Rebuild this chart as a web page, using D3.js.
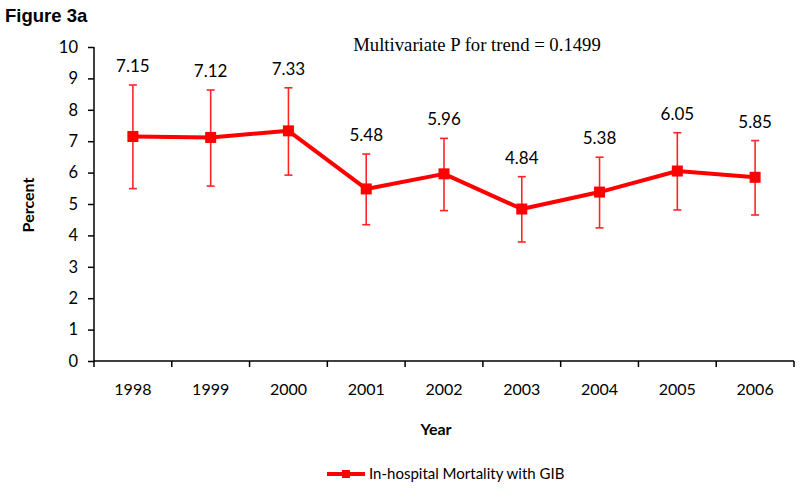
<!DOCTYPE html>
<html><head><meta charset="utf-8">
<script src="https://cdn.jsdelivr.net/npm/d3@7"></script>
<style>body{margin:0;background:#fff}</style>
</head><body>
<svg id="c" width="800" height="488"></svg>
<script>
const years = ["1998","1999","2000","2001","2002","2003","2004","2005","2006"];
const mortality = [7.15, 7.12, 7.33, 5.48, 5.96, 4.84, 5.38, 6.05, 5.85];
const ciLower = [5.49, 5.57, 5.92, 4.34, 4.79, 3.79, 4.24, 4.81, 4.65];
const ciUpper = [8.79, 8.63, 8.70, 6.59, 7.09, 5.87, 6.49, 7.27, 7.02];
const yTicks = [0,1,2,3,4,5,6,7,8,9,10];

const svg = d3.select("#c");
const W = 800, H = 488;
svg.append("rect").attr("width",W).attr("height",H).attr("fill","#fff");
const m = {left:94, right:794, top:47, bottom:361};
const x = d3.scaleBand().domain(years).range([m.left, m.right]);
const y = d3.scaleLinear().domain([0,10]).range([m.bottom, m.top]);
const font = "Lato, 'Open Sans', sans-serif";
const red = "#ff0000";

// Y axis
const ya = svg.append("g").attr("transform",`translate(${m.left},0)`)
  .call(d3.axisLeft(y).tickValues(yTicks).tickSize(6).tickPadding(10).tickFormat(d3.format("d")));
ya.selectAll("path,line").attr("stroke","#000").attr("stroke-width",1.5);
ya.select(".domain").attr("d",`M0,${m.top}V${m.bottom}`);
ya.selectAll("text").attr("font-family",font).attr("font-size",16.5).attr("fill","#000");

// X axis with ticks at category boundaries
const xa = svg.append("g").attr("transform",`translate(0,${m.bottom})`)
  .call(d3.axisBottom(x).tickSize(0).tickPadding(23));
xa.select(".domain").attr("d",`M${m.left},0H${m.right}`).attr("stroke","#000").attr("stroke-width",1.5);
xa.selectAll("text").attr("font-family",font).attr("font-size",16).attr("fill","#000");
const bounds = years.map(d => x(d)).concat([x(years[years.length-1]) + x.bandwidth()]);
xa.selectAll(".bt").data(bounds).enter().append("line")
  .attr("x1",d=>d).attr("x2",d=>d).attr("y1",0).attr("y2",6)
  .attr("stroke","#000").attr("stroke-width",1.5);

const cx = d => x(d) + x.bandwidth()/2;

// Error bars
const eb = svg.append("g").attr("stroke",red).attr("stroke-width",1.6).attr("opacity",0.85);
years.forEach((yr,i) => {
  eb.append("line").attr("x1",cx(yr)).attr("x2",cx(yr)).attr("y1",y(ciLower[i])).attr("y2",y(ciUpper[i]));
  eb.append("line").attr("x1",cx(yr)-4).attr("x2",cx(yr)+4).attr("y1",y(ciLower[i])).attr("y2",y(ciLower[i]));
  eb.append("line").attr("x1",cx(yr)-4).attr("x2",cx(yr)+4).attr("y1",y(ciUpper[i])).attr("y2",y(ciUpper[i]));
});

// Line
const line = d3.line().x((d,i)=>cx(years[i])).y(d=>y(d));
svg.append("path").datum(mortality).attr("d",line).attr("fill","none")
  .attr("stroke",red).attr("stroke-width",4).attr("stroke-linejoin","round");

// Markers
svg.selectAll(".mk").data(mortality).enter().append("rect")
  .attr("x",(d,i)=>cx(years[i])-5.5).attr("y",d=>y(d)-5.5)
  .attr("width",11).attr("height",11).attr("fill",red);

// Value labels
svg.selectAll(".vl").data(mortality).enter().append("text")
  .attr("x",(d,i)=>cx(years[i])).attr("y",(d,i)=>y(ciUpper[i])-13)
  .attr("text-anchor","middle").attr("font-family",font).attr("font-size",17).attr("fill","#000")
  .text(d=>d.toFixed(2));

// Titles
svg.append("text").attr("x",5).attr("y",22).attr("font-family","'Liberation Sans', Arial, sans-serif")
  .attr("font-weight","bold").attr("font-size",18.5).text("Figure 3a");
svg.append("text").attr("x",477).attr("y",51).attr("text-anchor","middle")
  .attr("font-family","'Liberation Serif', 'Times New Roman', serif").attr("font-size",18.7)
  .text("Multivariate P for trend = 0.1499");
svg.append("text").attr("transform","translate(34,205) rotate(-90)").attr("text-anchor","middle")
  .attr("font-family",font).attr("font-weight","bold").attr("font-size",16).text("Percent");
svg.append("text").attr("x",436).attr("y",435).attr("text-anchor","middle")
  .attr("font-family",font).attr("font-weight","bold").attr("font-size",16).text("Year");

// Legend
const lg = svg.append("g");
lg.append("line").attr("x1",327).attr("x2",365).attr("y1",474).attr("y2",474).attr("stroke",red).attr("stroke-width",4);
lg.append("rect").attr("x",342).attr("y",470).attr("width",8).attr("height",8).attr("fill",red);
lg.append("text").attr("x",369).attr("y",479).attr("font-family",font).attr("font-size",15).attr("fill","#000")
  .text("In-hospital Mortality with GIB");
</script>
</body></html>
